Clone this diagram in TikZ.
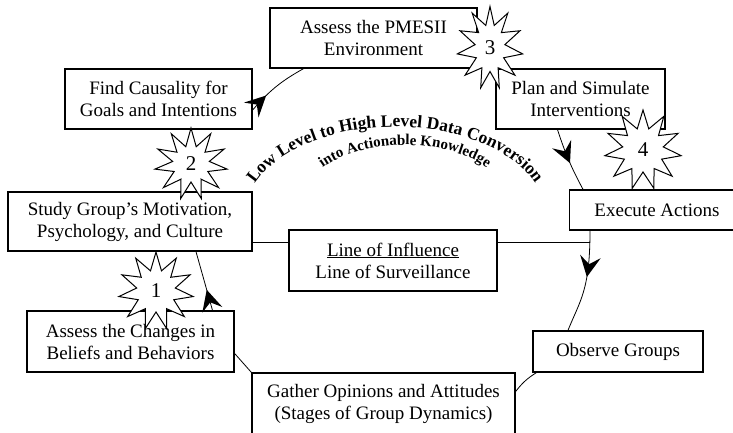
\documentclass[tikz,border=0pt]{standalone}
\usepackage{fontspec}
\setmainfont{Liberation Serif}
\usetikzlibrary{shapes.symbols, arrows, decorations.markings, decorations.text}
\tikzstyle{box} = [rectangle, draw=black, line width=1.3pt, fill=white, align=center, inner sep=2pt, font=\fontsize{19}{22}\selectfont]
\tikzstyle{burst} = [starburst, starburst points=11, starburst point height=18pt, draw=black, fill=white, line width=1pt, font=\fontsize{21}{21}\selectfont]
\tikzstyle{link} = [line width=0.8pt]
\tikzset{midarrow/.style={postaction={decorate}, decoration={markings, mark=at position #1 with {\arrow[scale=5]{stealth}}}}}

\begin{document}
\begin{tikzpicture}[x=1pt, y=-1pt]
        \useasboundingbox (0,0) rectangle (733,432);
        \clip (0,0) rectangle (733,432);

        % the steps round the cycle
        \node (pmesii) [box, minimum width=207pt, minimum height=60pt] at (373.5,38) {Assess the PMESII\\Environment};
        \node (find) [box, minimum width=187pt, minimum height=60pt] at (158.5,99) {Find Causality for\\Goals and Intentions};
        \node (plan) [box, minimum width=169pt, minimum height=60pt] at (580.5,99) {Plan and Simulate\\Interventions};
        \node (exec) [box, minimum width=175pt, minimum height=40pt] at (657,210) {Execute Actions};
        \node (study) [box, minimum width=244pt, minimum height=59pt] at (130,221.5) {Study Group’s Motivation,\\Psychology, and Culture};
        \node (loi) [box, minimum width=208pt, minimum height=61pt] at (393,260.5) {\underline{Line of Influence}\\Line of Surveillance};
        \node (changes) [box, minimum width=207pt, minimum height=61pt] at (130.5,341.5) {Assess the Changes in\\Beliefs and Behaviors};
        \node (observe) [box, minimum width=170pt, minimum height=41pt] at (618,351.5) {Observe Groups};
        \node (gather) [box, minimum width=263pt, minimum height=61pt] at (383.5,403.5) {Gather Opinions and Attitudes\\(Stages of Group Dynamics)};

        \coordinate (xa) at ([xshift=-67pt]exec.south);
        \coordinate (lvl) at (0,242);

        \draw [link, midarrow=0.3] ([yshift=-11pt]find.east) to[bend left=10] ([xshift=-70pt]pmesii.south);
        \draw [link, midarrow=0.55] ([xshift=-23pt]plan.south) to[bend right=5] ([xshift=-74pt]exec.north);
        \draw [link, midarrow=0.45] (xa) .. controls +(0,60) and +(12,-30) .. ([xshift=-50pt]observe.north);
        \draw [link] ([xshift=4pt]observe.south west) to[bend right=10] ([yshift=12pt]gather.east);
        \draw [link] (gather.north west) -- ([yshift=-12pt]changes.east);
        \draw [link, midarrow=0.35] ([xshift=82pt]changes.north) -- ([xshift=66pt]study.south);
        \draw [link] (study.east |- lvl) -- (loi.west |- lvl);
        \draw [link] (loi.east |- lvl) -- (xa |- lvl);

        % arched title
        \path [decorate, decoration={text along path, text align=center,
            text={|\bfseries\fontsize{17.5}{17.5}\selectfont|Low Level to High Level Data Conversion}}]
            (247.3,199.7) arc[start angle=-170, end angle=-10, x radius=150, y radius=88];
        \path [decorate, decoration={text along path, text align=center,
            text={|\bfseries\fontsize{15}{15}\selectfont|into Actionable Knowledge}}]
            (314,175) arc[start angle=-150, end angle=-30, x radius=105, y radius=60];

        % numbered bursts
        \node (b1) [burst, random starburst=0, minimum width=75pt, minimum height=78pt] at (156,291) {1};
        \node (b2) [burst, random starburst=0, minimum width=73pt, minimum height=72pt] at (191,164) {2};
        \node (b3) [burst, random starburst=0, minimum width=66pt, minimum height=83pt] at (490,48) {3};
        \node (b4) [burst, random starburst=0, minimum width=77pt, minimum height=80pt] at (643,150) {4};
      \end{tikzpicture}
\end{document}
